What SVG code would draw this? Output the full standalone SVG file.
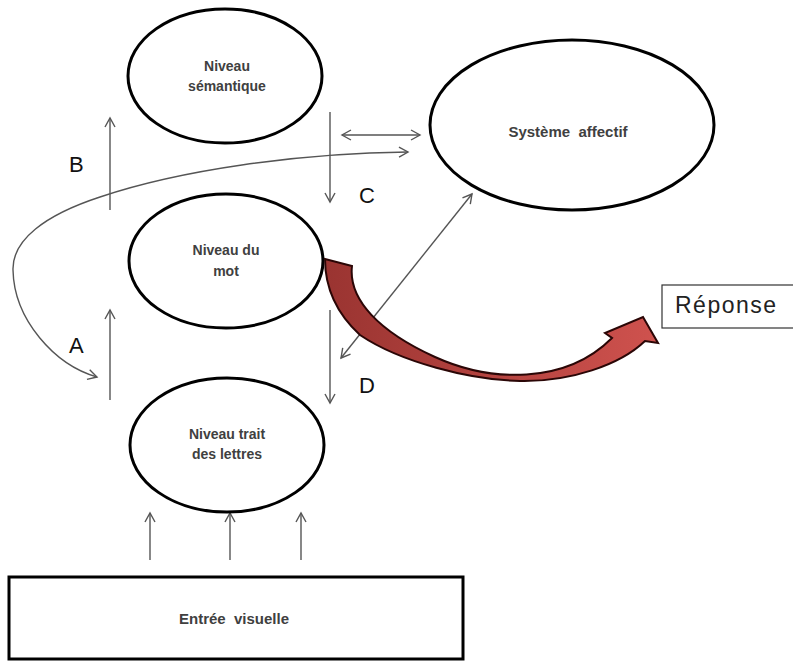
<svg xmlns="http://www.w3.org/2000/svg" width="793" height="662" viewBox="0 0 793 662">
<style>
.node{fill:#fff;stroke:#000;stroke-width:3}
.lbl{font-family:"Liberation Sans",Arial,sans-serif;font-weight:bold;font-size:14px;fill:#404040;text-anchor:middle}
.big{font-family:"Liberation Sans",Arial,sans-serif;font-size:22px;fill:#111}
.conn{fill:none;stroke:#555;stroke-width:1.4}
</style>
<defs>
<marker id="ah" markerUnits="userSpaceOnUse" viewBox="-11 -7 13 14" markerWidth="13" markerHeight="14" refX="0" refY="0" orient="auto-start-reverse">
<path d="M-9,-5 L0,0 L-9,5" fill="none" stroke="#555" stroke-width="1.4"/>
</marker>
<linearGradient id="rg" x1="0" y1="0" x2="1" y2="0">
<stop offset="0" stop-color="#9a3431"/>
<stop offset="1" stop-color="#cf524e"/>
</linearGradient>
</defs>
<g id="connectors">
<line class="conn" x1="110" y1="210" x2="110" y2="118" marker-end="url(#ah)"/>
<line class="conn" x1="110" y1="400" x2="110" y2="310" marker-end="url(#ah)"/>
<line class="conn" x1="330" y1="112" x2="330" y2="202" marker-end="url(#ah)"/>
<line class="conn" x1="330" y1="310" x2="330" y2="403" marker-end="url(#ah)"/>
<line class="conn" x1="342" y1="135" x2="420" y2="135" marker-start="url(#ah)" marker-end="url(#ah)"/>
<line class="conn" x1="472" y1="194" x2="341" y2="358" marker-start="url(#ah)" marker-end="url(#ah)"/>
<path class="conn" d="M408 152 C300 153 180 170 100 197 C45 215 12 240 13 270 C14 320 55 365 97 377" marker-start="url(#ah)" marker-end="url(#ah)"/>
<line class="conn" x1="150" y1="560" x2="150" y2="513" marker-end="url(#ah)"/>
<line class="conn" x1="230" y1="560" x2="230" y2="513" marker-end="url(#ah)"/>
<line class="conn" x1="301" y1="560" x2="301" y2="513" marker-end="url(#ah)"/>
</g>
<g id="semantique">
<ellipse class="node" cx="225" cy="76" rx="97" ry="67"/>
<text class="lbl" x="227" y="71">Niveau</text>
<text class="lbl" x="227" y="91">sémantique</text>
</g>
<g id="mot">
<ellipse class="node" cx="226" cy="261" rx="97" ry="67"/>
<text class="lbl" x="226" y="255">Niveau du</text>
<text class="lbl" x="226" y="276">mot</text>
</g>
<g id="trait">
<ellipse class="node" cx="227" cy="445" rx="97" ry="67"/>
<text class="lbl" x="227" y="439">Niveau trait</text>
<text class="lbl" x="227" y="459">des lettres</text>
</g>
<g id="affectif">
<ellipse class="node" cx="572" cy="125" rx="142" ry="85"/>
<text class="lbl" x="568" y="137" style="font-size:15px" xml:space="preserve">Système  affectif</text>
</g>
<g id="entree">
<rect class="node" x="9" y="577" width="454" height="82"/>
<text class="lbl" x="234" y="624" style="font-size:15px" xml:space="preserve">Entrée  visuelle</text>
</g>
<g id="reponse">
<rect x="662" y="285" width="140" height="43" fill="#fff" stroke="#333" stroke-width="1.2"/>
<text x="675" y="313" style="font-family:'Liberation Sans',Arial,sans-serif;font-size:23px;letter-spacing:1.5px;fill:#222">Réponse</text>
</g>
<g id="labels">
<text class="big" x="69" y="172">B</text>
<text class="big" x="69" y="353">A</text>
<text class="big" x="359" y="203">C</text>
<text class="big" x="359" y="393">D</text>
</g>
<g id="red-arrow">
<path d="M325 259 L352 266 C348 300 380 332 435 357 C490 382 565 385 612 338 L605 333 L643 317 L658 343 L645 341 C620 365 570 382 520 381 C470 380 400 362 360 335 C335 312 325 285 325 259 Z" fill="url(#rg)" stroke="#2a0606" stroke-width="2" stroke-linejoin="miter"/>
</g>
</svg>
